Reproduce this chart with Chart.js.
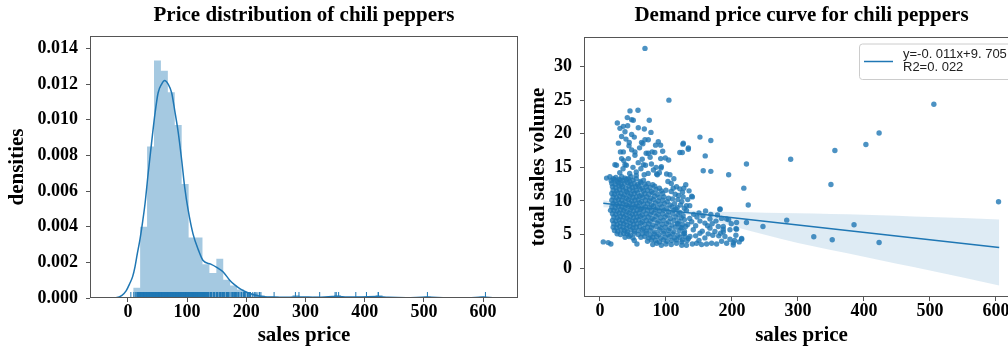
<!DOCTYPE html>
<html>
<head>
<meta charset="utf-8">
<script src="https://cdn.jsdelivr.net/npm/chart.js@4.4.0/dist/chart.umd.min.js"></script>
<style>
  html, body { margin: 0; padding: 0; background: #fff; overflow: hidden; width: 1008px; height: 349px; }
  #leftBox { position: absolute; left: 0; top: 0; }
  #rightBox { position: absolute; left: 520px; top: 0; }
</style>
</head>
<body>
<div id="leftBox"><canvas id="left" width="522" height="349"></canvas></div>
<div id="rightBox"><canvas id="right" width="504" height="349"></canvas></div>
<script>
// ---- data ----
const histStart = 9;
const histBinWidth = 11.7;
const histDensity = [
  0.00058, 0.0040, 0.0085, 0.01332, 0.01275, 0.01155, 0.0097, 0.0064, 0.0034, 0.0034,
  0.0019, 0.0014, 0.0022, 0.00103, 0.0007, 0.00048, 0.00034, 0.00025, 0.00015, 0.00009,
  0.00009, 0, 0, 0.00017, 0, 0, 0.00009, 0, 0, 0.00017,
  0, 0, 0.00009, 0.00009, 0, 0.00017, 0, 0, 0, 0,
  0, 0, 0.00009, 0, 0, 0, 0, 0, 0, 0,
  0.00009
];

const kdePrice = [-32, -20, -10, -3, 3, 8, 12, 16, 20, 25, 29, 34, 40, 46, 51, 57, 62, 68, 74, 79,
  85, 91, 96, 102, 110, 119, 127, 140, 150, 161, 172, 180, 189, 197, 206, 223, 245, 270, 290, 320,
  345, 355, 370, 395, 420, 440, 470, 505, 540, 575, 600, 620, 640];
const kdeDensity = [0, 0.00002, 0.00015, 0.0004, 0.0008, 0.0012, 0.00175, 0.0025, 0.0032, 0.0043,
  0.0053, 0.0069, 0.0087, 0.0104, 0.0115, 0.0120, 0.0122, 0.0120, 0.0115, 0.01054,
  0.0093, 0.0077, 0.0062, 0.0049, 0.0036, 0.0027, 0.0021, 0.0019, 0.00172, 0.00146,
  0.0010, 0.00075, 0.00053, 0.00038, 0.00025, 0.0001, 0.00005, 0.00004, 0.00006, 0.00004,
  0.00008, 0.00008, 0.00005, 0.00006, 0.00008, 0.00004, 0.00002, 0.00005, 0.00001, 0.00001,
  0.00005, 0.00001, 0];

// [sales price, total sales volume]
const coreCluster = [
  [10,13.4],[15,13.6],[20,13.3],[24,13.5],[29,13.2],[33,13.6],[38,13.4],[43,13.3],[47,13.6],
  [17,13.0],[22,13.2],[26,12.9],[31,13.1],[35,13.0],[40,13.2],[45,12.9],[50,13.1],[55,13.3],[61,12.9],[66,13.1],
  [18,12.6],[23,12.5],[28,12.7],[32,12.4],[37,12.6],[42,12.7],[47,12.5],[52,12.6],[57,12.4],[62,12.7],[68,12.5],[73,12.6],[80,12.4],
  [19,12.1],[24,12.0],[29,12.2],[34,12.1],[39,11.9],[44,12.2],[49,12.0],[54,12.1],[59,12.2],[64,11.9],[70,12.1],[76,12.0],[83,12.2],[90,11.9],
  [20,11.6],[25,11.5],[30,11.7],[35,11.6],[40,11.4],[45,11.7],[50,11.5],[55,11.6],[61,11.7],[66,11.5],[72,11.6],[78,11.4],[85,11.7],[93,11.5],[100,11.6],
  [18,11.1],[22,11.0],[27,11.2],[32,11.1],[37,10.9],[42,11.2],[47,11.0],[52,11.1],[57,11.2],[63,10.9],[68,11.1],[74,11.0],[80,11.2],[87,11.0],[95,11.1],
  [20,10.6],[25,10.5],[30,10.7],[35,10.6],[40,10.4],[45,10.7],[50,10.5],[55,10.6],[60,10.7],[65,10.5],[71,10.6],[77,10.4],[83,10.7],[90,10.5],[97,10.6],[104,10.4],
  [18,10.1],[23,10.0],[28,10.2],[33,10.1],[38,9.9],[43,10.2],[48,10.0],[53,10.1],[58,10.2],[63,9.9],[69,10.1],[75,10.0],[81,10.2],[88,10.0],[95,10.1],[102,9.9],
  [20,9.6],[25,9.5],[30,9.7],[35,9.6],[40,9.4],[45,9.7],[50,9.5],[55,9.6],[60,9.7],[66,9.5],[72,9.6],[78,9.4],[84,9.7],[91,9.5],[98,9.6],[106,9.4],
  [18,9.1],[23,9.0],[28,9.2],[33,9.1],[38,8.9],[43,9.2],[48,9.0],[53,9.1],[58,9.2],[63,8.9],[69,9.1],[75,9.0],[81,9.2],[87,9.0],[94,9.1],[101,8.9],[109,9.1],
  [21,8.6],[26,8.5],[31,8.7],[36,8.6],[41,8.4],[46,8.7],[51,8.5],[56,8.6],[61,8.7],[66,8.5],[72,8.6],[78,8.4],[84,8.7],[90,8.5],[97,8.6],[104,8.4],[112,8.6],
  [19,8.1],[24,8.0],[29,8.2],[34,8.1],[39,7.9],[44,8.2],[49,8.0],[54,8.1],[59,8.2],[64,7.9],[70,8.1],[76,8.0],[82,8.2],[88,8.0],[95,8.1],[102,7.9],[110,8.1],[118,8.0],
  [21,7.6],[26,7.5],[31,7.7],[36,7.6],[41,7.4],[46,7.7],[51,7.5],[56,7.6],[61,7.7],[67,7.5],[73,7.6],[79,7.4],[85,7.7],[92,7.5],[99,7.6],[107,7.4],[115,7.6],[123,7.5],
  [19,7.1],[24,7.0],[29,7.2],[34,7.1],[39,6.9],[44,7.2],[49,7.0],[54,7.1],[59,7.2],[64,6.9],[70,7.1],[76,7.0],[82,7.2],[89,7.0],[96,7.1],[104,6.9],[112,7.1],[120,7.0],[128,7.2],
  [21,6.6],[26,6.5],[31,6.7],[36,6.6],[41,6.4],[46,6.7],[51,6.5],[56,6.6],[62,6.7],[68,6.5],[74,6.6],[80,6.4],[87,6.7],[94,6.5],[101,6.6],[109,6.4],[117,6.6],[125,6.5],
  [20,6.1],[25,6.0],[30,6.2],[35,6.1],[40,5.9],[45,6.2],[50,6.0],[55,6.1],[60,6.2],[66,5.9],[72,6.1],[78,6.0],[85,6.2],[92,6.0],[99,6.1],[106,5.9],[114,6.1],[122,6.0],[130,6.2],
  [22,5.6],[27,5.5],[32,5.7],[37,5.6],[42,5.4],[47,5.7],[52,5.5],[58,5.6],[64,5.7],[70,5.5],[76,5.6],[83,5.4],[90,5.7],[97,5.5],[104,5.6],[112,5.4],[120,5.6],[128,5.5],
  [26,5.1],[31,5.0],[36,5.2],[41,5.1],[46,4.9],[52,5.2],[58,5.0],[64,5.1],[70,5.2],[76,4.9],[82,5.1],[89,5.0],[96,5.2],[103,5.0],[110,5.1],[118,4.9],[126,5.1],
  [38,4.6],[44,4.7],[50,4.5],[62,4.6],[68,4.7],[74,4.5],[80,4.6],[86,4.7],[92,4.5],[99,4.6],[106,4.7],[113,4.5],[121,4.6],[129,4.7],
  [52,4.1],[72,4.0],[78,4.2],[84,4.1],[90,3.9],[96,4.2],[102,4.0],[109,4.1],[116,4.2],[124,3.9],[132,4.1],
  [56,3.6],[80,3.5],[86,3.7],[93,3.4],[100,3.6],[108,3.5],[116,3.7],[124,3.4],
  [108,11.4],[114,11.0],[118,10.2],[126,10.6],[122,9.4],[128,8.9],[133,10.2],[117,9.0],[125,11.3],[130,12.4],[111,11.9]
];

const rightCluster = [
  [151.5,7.0],[159,6.7],[166.7,7.3],[175.8,7.0],[184.3,7.4],[192,7.3],[166.7,5.95],[174.2,5.45],
  [182.8,5.2],[189.4,4.7],[197,4.3],[192,3.7],[184.3,4.0],[176.8,3.6],[169.2,3.7],[161.6,3.6],
  [154,3.5],[146.5,3.7],[159,4.5],[151.5,5.2],[136.4,4.7],[141.4,5.7],[179.3,6.2],[186.9,6.2],[197,5.7],
  [115,8.8],[121,8.3],[126,7.8],[131,8.6],[136,7.4],[142,8.0],[147,7.6],[118,6.6],[124,6.0],[133,6.5],
  [139,6.9],[145,6.3],[150,8.2],[156,7.8],[128,5.2],[134,4.4],[140,3.6],[131,3.4],[125,4.2],[145,4.8],
  [150,4.1],[155,5.5],[163,6.3],[170,6.6],[171,4.9],[164,5.1],[180,4.8],[187,5.4],[199,6.6],[204,4.1],
  [211,3.9],[178,7.9],[160,8.5],[168,8.0],
  [112,13.3],[106,13.9],[116,12.1],[121,11.8],[127,11.9],[119,10.8],[140,10.6],[135,11.5],[110,10.3],
  [113,9.6],[124,9.9],[131,9.3],[108,12.6],[103,12.9],[139,10.7],[136,9.3],[182,8.8],[195,7.2],
  [207,5.8],[214.6,4.3],[202,3.45],[207,6.8],[181.8,8.73],[214.7,4.4],[206,4.9],[206,5.85],[202,3.77],[186.8,5.8]
];

const upperPoints = [
  [45.5,23.4],[57.6,23.5],[26.3,21.6],[41.4,22.4],[48,22.1],[50.5,22.0],[74.7,22.0],[30.3,20.8],
  [35.4,21.1],[37.9,20.3],[67.2,20.7],[58.1,20.9],[77.3,20.2],[32.8,19.6],[39.4,19.2],[48,19.9],
  [52,19.5],[44.4,18.7],[63,18.7],[68.2,19.1],[73.2,19.1],[88.4,18.8],[84.3,18.3],[91.9,18.3],
  [126.3,18.6],[134,17.9],[35.4,17.3],[53,17.3],[22.7,15.4],[32.8,16.3],[37.9,15.4],[65.7,15.4],
  [73.2,17.1],[95,17.4],[104,16.1],[121,17.2],[92.4,14.9],[101,14.0],[85.9,14.0],
  [60,17.9],[53,16.8],[43,16.3],[31,17.3],[40,15.3],[25,15.3],[62,14.8],[69,15.3],[78,15.5],
  [85,15.0],[73,14.1],[99,16.4],[92,16.3],[81,14.6],[90,14.2],[79,17.3],[83,17.2],[65,18.5],
  [30,14.2],[35,14.8],[45,14.1],[50,15.0],[55,14.3],[58,15.7],[64,16.2],[48,17.6],[36,16.0],
  [44,18.2],[67,13.9],[87,13.9],[93,15.1],[76,16.5],[70,17.1],[28,18.6],[42,21.2],[55,13.8]
];

const outliers = [
  [68.2,32.7],[104.5,25.0],[506,24.4],[423,20.1],[403,18.4],[356,17.5],[289,16.2],[350,12.45],
  [604,9.87],[283,7.14],[385,6.45],[247,6.2],[324,4.66],[352,4.22],[423,3.82],
  [224.7,9.4],[218,11.9],[222,15.5],[222,6.8],[195,13.9],[168,19.0],[151.5,19.5],[159.5,16.7],
  [156.5,14.5],[168,14.4],[125.8,18.45],[133.8,17.7],[124.7,17.2],
  [5,3.9],[12.5,3.8],[16.5,3.6],[16,8.6]
];

const regPrice = [5, 605];
const regVolume = [9.65, 3.05];

const bandPrice = [5, 50, 100, 150, 200, 250, 300, 350, 400, 450, 500, 550, 605];
const bandUpper = [10.1, 9.45, 8.9, 8.5, 8.35, 8.25, 8.15, 8.05, 7.95, 7.8, 7.6, 7.45, 7.25];
const bandLower = [9.05, 8.85, 8.4, 7.6, 6.25, 4.95, 3.75, 2.7, 1.7, 0.65, -0.35, -1.4, -2.6];

const legendLines = ['y=-0. 011x+9. 705', 'R2=0. 022'];

const leftXTicks = [0, 100, 200, 300, 400, 500, 600];
const leftYTicks = [0, 0.002, 0.004, 0.006, 0.008, 0.010, 0.012, 0.014];
const rightXTicks = [0, 100, 200, 300, 400, 500, 600];
const rightYTicks = [0, 5, 10, 15, 20, 25, 30];

// ---- drawing ----
const BLUE = '#1f77b4';
const SPINE = '#555555';
const SERIF = "'Liberation Serif', 'Times New Roman', serif";

const allPoints = coreCluster.concat(rightCluster, upperPoints, outliers);

const histPoints = histDensity.map((d, i) => ({ x: histStart + i * histBinWidth, y: d }));
histPoints.push({ x: histStart + histDensity.length * histBinWidth, y: histDensity[histDensity.length - 1] });

const frame = {
  id: 'frame',
  afterDraw(chart) {
    const { ctx, chartArea: a } = chart;
    ctx.save();
    ctx.strokeStyle = SPINE;
    ctx.lineWidth = 1;
    ctx.strokeRect(Math.round(a.left) + 0.5, Math.round(a.top) + 0.5,
      Math.round(a.right - a.left) - 1, Math.round(a.bottom - a.top) - 1);
    ctx.restore();
  }
};

const rug = {
  id: 'rug',
  afterDatasetsDraw(chart) {
    const { ctx, chartArea: a, scales } = chart;
    ctx.save();
    ctx.strokeStyle = BLUE;
    ctx.lineWidth = 1;
    ctx.beginPath();
    allPoints.forEach(p => {
      const px = scales.x.getPixelForValue(p[0]);
      ctx.moveTo(px, a.bottom);
      ctx.lineTo(px, a.bottom - 6);
    });
    ctx.stroke();
    ctx.restore();
  }
};

const regLegend = {
  id: 'regLegend',
  afterDraw(chart) {
    const { ctx, chartArea: a } = chart;
    const right = a.right - 7, top = a.top + 6.5, left = right - 153, h = 35.5;
    ctx.save();
    ctx.fillStyle = 'rgba(255,255,255,0.8)';
    ctx.strokeStyle = '#cccccc';
    ctx.lineWidth = 1;
    ctx.beginPath();
    ctx.roundRect(left + 0.5, top + 0.5, right - left, h, 3);
    ctx.fill();
    ctx.stroke();
    ctx.strokeStyle = BLUE;
    ctx.lineWidth = 1.5;
    ctx.beginPath();
    ctx.moveTo(left + 5, top + 18);
    ctx.lineTo(left + 34, top + 18);
    ctx.stroke();
    ctx.fillStyle = '#222';
    ctx.font = "13px 'Liberation Sans', Arial, sans-serif";
    ctx.textBaseline = 'middle';
    legendLines.forEach((t, i) => ctx.fillText(t, left + 44, top + 11 + i * 13.3));
    ctx.restore();
  }
};

function axis(opts) {
  return {
    type: 'linear',
    min: opts.min,
    max: opts.max,
    grid: { drawOnChartArea: false, drawTicks: true, tickLength: 4, color: SPINE },
    border: { display: false },
    ticks: {
      color: '#000',
      font: { family: SERIF, size: 18, weight: 'bold' },
      padding: opts.pad,
      autoSkip: false,
      maxRotation: 0,
      callback: opts.fmt || (v => String(v))
    },
    title: {
      display: true,
      text: opts.title,
      color: '#000',
      font: { family: SERIF, size: 21, weight: 'bold' },
      padding: opts.titlePad
    },
    afterBuildTicks: s => { s.ticks = opts.ticks.map(v => ({ value: v })); },
    afterFit: s => {
      if (opts.width) s.width = opts.width;
      if (opts.height) s.height = opts.height;
    }
  };
}

function titleOpts(text, bottomPad) {
  return {
    display: true,
    text,
    color: '#000',
    fullSize: false,
    font: { family: SERIF, size: 21, weight: 'bold' },
    padding: { top: 2.6, bottom: bottomPad }
  };
}

new Chart(document.getElementById('left'), {
  type: 'line',
  data: {
    datasets: [
      {
        data: kdePrice.map((x, i) => ({ x, y: kdeDensity[i] })),
        borderColor: BLUE,
        borderWidth: 1.5,
        pointRadius: 0,
        cubicInterpolationMode: 'monotone',
        fill: false
      },
      {
        data: histPoints,
        stepped: 'before',
        borderColor: 'rgba(0,0,0,0)',
        borderWidth: 0,
        pointRadius: 0,
        fill: 'origin',
        backgroundColor: 'rgba(31,119,180,0.4)'
      }
    ]
  },
  options: {
    responsive: false,
    animation: false,
    layout: { padding: { left: 0, right: 4, top: 0, bottom: 0 } },
    scales: {
      x: axis({ min: -64, max: 659, ticks: leftXTicks, title: 'sales price', pad: 0, titlePad: { top: 0, bottom: 1 }, height: 51 }),
      y: axis({ min: 0, max: 0.0147, ticks: leftYTicks, title: 'densities', pad: 8, titlePad: { top: 5, bottom: 0 }, width: 90, fmt: v => v.toFixed(3) })
    },
    plugins: {
      legend: { display: false },
      tooltip: { enabled: false },
      title: titleOpts('Price distribution of chili peppers', 8.2)
    }
  },
  plugins: [rug, frame]
});

new Chart(document.getElementById('right'), {
  type: 'scatter',
  data: {
    datasets: [
      {
        type: 'line',
        data: regPrice.map((x, i) => ({ x, y: regVolume[i] })),
        borderColor: BLUE,
        borderWidth: 1.5,
        pointRadius: 0,
        fill: false
      },
      {
        type: 'line',
        data: bandPrice.map((x, i) => ({ x, y: bandUpper[i] })),
        borderColor: 'rgba(0,0,0,0)',
        borderWidth: 0,
        pointRadius: 0,
        cubicInterpolationMode: 'monotone',
        fill: '+1',
        backgroundColor: 'rgba(31,119,180,0.15)'
      },
      {
        type: 'line',
        data: bandPrice.map((x, i) => ({ x, y: bandLower[i] })),
        borderColor: 'rgba(0,0,0,0)',
        borderWidth: 0,
        pointRadius: 0,
        cubicInterpolationMode: 'monotone',
        fill: false
      },
      {
        data: allPoints.map(p => ({ x: p[0], y: p[1] })),
        pointRadius: 2.7,
        pointBorderWidth: 0,
        pointBackgroundColor: 'rgba(31,119,180,0.8)',
        backgroundColor: 'rgba(31,119,180,0.8)'
      }
    ]
  },
  options: {
    responsive: false,
    animation: false,
    layout: { padding: { left: 0, right: 5, top: 0, bottom: 0 } },
    scales: {
      x: axis({ min: -24.2, max: 635, ticks: rightXTicks, title: 'sales price', pad: 0, titlePad: { top: 0, bottom: 1 }, height: 52 }),
      y: axis({ min: -4.3, max: 34.4, ticks: rightYTicks, title: 'total sales volume', pad: 8, titlePad: { top: 5.5, bottom: 0 }, width: 64 })
    },
    plugins: {
      legend: { display: false },
      tooltip: { enabled: false },
      title: titleOpts('Demand price curve for chili peppers', 9.2)
    }
  },
  plugins: [frame, regLegend]
});
</script>
</body>
</html>
